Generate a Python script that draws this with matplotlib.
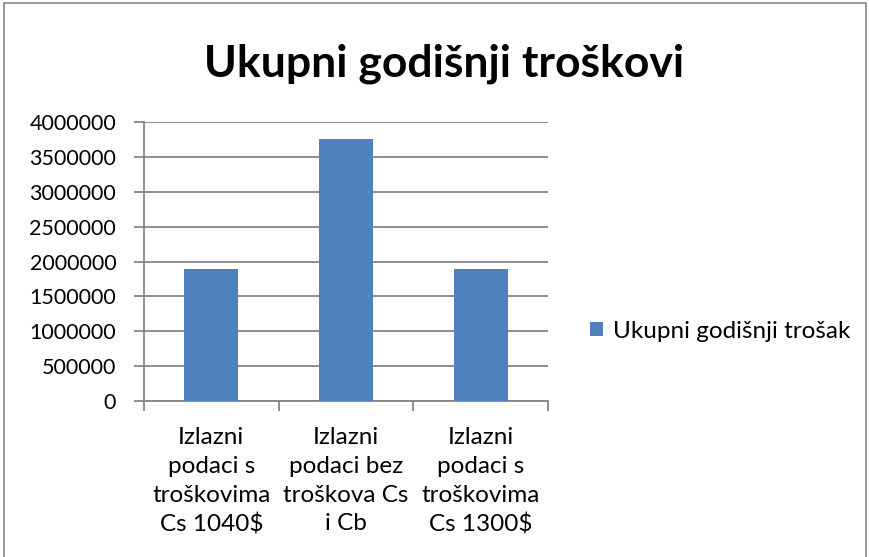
import matplotlib
matplotlib.use("Agg")
import matplotlib.pyplot as plt
from matplotlib.patches import Rectangle

categories = ["Izlazni\npodaci s\ntroškovima\nCs 1040$",
              "Izlazni\npodaci bez\ntroškova Cs\ni Cb",
              "Izlazni\npodaci s\ntroškovima\nCs 1300$"]
values = [1895000, 3757000, 1895000]
series_name = "Ukupni godišnji trošak"
yticks = [0, 500000, 1000000, 1500000, 2000000, 2500000, 3000000, 3500000, 4000000]

plt.rcParams['font.family'] = ['Lato', 'DejaVu Sans']

fig = plt.figure(figsize=(8.7, 5.57), dpi=100)
fig.patches.append(Rectangle((0.005, -0.01), 0.99, 1.005, transform=fig.transFigure,
                             fill=False, edgecolor="#868686", linewidth=1.2))

ax = fig.add_axes([144/870, 1-401/557, (548-144)/870, (401-122)/557])
x = list(range(len(categories)))
ax.bar(x, values, width=0.4, color="#4F81BD", label=series_name, zorder=3)
ax.set_xlim(-0.5, 2.5)
ax.set_ylim(0, 4000000)
ax.set_yticks(yticks)
ax.set_yticklabels([str(v) for v in yticks], fontsize=15.5)
ax.yaxis.grid(True, color="#868686", linewidth=1.3, zorder=0)
ax.set_axisbelow(True)
for s in ["top", "right"]:
    ax.spines[s].set_visible(False)
for s in ["left", "bottom"]:
    ax.spines[s].set_color("#868686")
    ax.spines[s].set_linewidth(1.3)
ax.tick_params(axis="y", length=7, width=1.3, color="#868686", pad=13, labelcolor="black")
ax.set_xticks([-0.5, 0.5, 1.5, 2.5], minor=False)
ax.set_xticklabels([])
ax.tick_params(axis="x", which="major", length=7, width=1.3, color="#868686")
ax.set_xticks(x, minor=True)
ax.set_xticklabels(categories, minor=True, fontsize=17.5, linespacing=1.45)
ax.tick_params(axis="x", which="minor", length=0, pad=19)

fig.text(444/870, 1-64/557, "Ukupni godišnji troškovi", ha="center", va="center",
         fontsize=32, fontweight="bold")

ax.legend(loc="center left", bbox_to_anchor=(590/870, 1-331/557), bbox_transform=fig.transFigure,
          frameon=False, fontsize=17.5, handlelength=0.55, handleheight=0.55, handletextpad=0.4,
          borderaxespad=0, borderpad=0)

fig.savefig("out.png", dpi=100)
